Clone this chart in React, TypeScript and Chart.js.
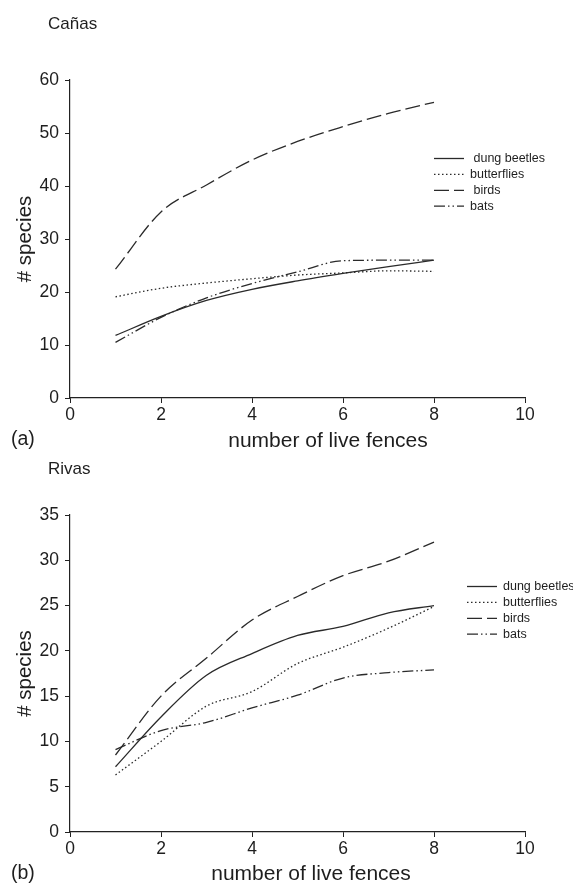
import React, { useEffect, useRef } from "react";
import { Chart, registerables } from "chart.js";

Chart.register(...registerables);

const fences = [1, 2, 3, 4, 5, 6, 7, 8];
const seriesNames = ["dung beetles", "butterflies", "birds", "bats"];
const legendLabelsA = [" dung beetles", "butterflies", " birds", "bats"];
const legendLabelsB = ["dung beetles", "butterflies", "birds", "bats"];
const xAxisTitle = "number of live fences";
const yAxisTitle = "# species";

// Cañas
const canasDung = [11.8, 15.4, 18.4, 20.5, 22.1, 23.5, 24.8, 26.0];
const canasButterflies = [19.1, 20.7, 21.7, 22.5, 23.2, 23.6, 24.0, 23.9];
const canasBirds = [24.3, 35.1, 40.2, 44.9, 48.4, 51.2, 53.7, 55.8];
const canasBats = [10.5, 15.2, 18.9, 21.6, 23.8, 25.9, 26.0, 26.0];

// Rivas
const rivasDung = [7.2, 12.7, 17.3, 19.7, 21.7, 22.7, 24.2, 25.0];
const rivasButterflies = [6.3, 10.0, 13.9, 15.5, 18.6, 20.4, 22.5, 24.9];
const rivasBirds = [8.5, 15.0, 19.2, 23.4, 26.0, 28.3, 29.9, 32.0];
const rivasBats = [9.1, 11.2, 12.1, 13.7, 15.1, 17.0, 17.6, 17.9];

const FONT = "'Liberation Sans', Arial, Helvetica, sans-serif";
const LINE = "#2a2a2a";
const TEXT = "#1e1e1e";
const dashes = [[], [1.5, 2.5], [15, 5], [11, 3, 1.5, 3, 1.5, 3]];

type PanelProps = {
  title: string;
  tag: string;
  series: number[][];
  legendLabels: string[];
  yMax: number;
  yStep: number;
  height: number;
  top: number;
  padTop: number;
  legendX: number;
  legendTextX: number;
  legendY: number;
  legendLen: number;
  titleY: number;
  tagY: number;
  xTitleX: number;
  xTitleY: number;
};

function Panel(p: PanelProps) {
  const ref = useRef<HTMLCanvasElement | null>(null);
  useEffect(() => {
    if (!ref.current) return;
    const extras = {
      id: "extras",
      afterDraw(chart: any) {
        const ctx = chart.ctx;
        ctx.save();
        ctx.fillStyle = TEXT;
        ctx.textBaseline = "middle";
        ctx.textAlign = "left";
        ctx.font = `17px ${FONT}`;
        ctx.fillText(p.title, 48, p.titleY);
        ctx.font = `19.5px ${FONT}`;
        ctx.fillText(p.tag, 11, p.tagY);
        ctx.font = `21px ${FONT}`;
        ctx.textAlign = "center";
        ctx.fillText(xAxisTitle, p.xTitleX, p.xTitleY);
        ctx.textAlign = "left";
        // legend
        ctx.font = `12.5px ${FONT}`;
        chart.data.datasets.forEach((ds: any, i: number) => {
          const y = p.legendY + i * 15.9;
          ctx.beginPath();
          ctx.setLineDash(ds.borderDash || []);
          ctx.strokeStyle = LINE;
          ctx.lineWidth = 1.3;
          ctx.moveTo(p.legendX, y);
          ctx.lineTo(p.legendX + p.legendLen, y);
          ctx.stroke();
          ctx.setLineDash([]);
          ctx.fillText(p.legendLabels[i], p.legendTextX, y);
        });
        ctx.restore();
      },
    };
    const chart = new Chart(ref.current, {
      type: "line",
      data: {
        datasets: seriesNames.map((name, i) => ({
          label: name,
          data: fences.map((x, j) => ({ x, y: p.series[i][j] })),
          borderColor: LINE,
          borderWidth: 1.3,
          borderDash: dashes[i],
          pointRadius: 0,
          fill: false,
          tension: 0.4,
          cubicInterpolationMode: "monotone" as const,
        })),
      },
      options: {
        responsive: false,
        animation: false,
        layout: { padding: { top: p.padTop, right: 48, left: 0, bottom: 0 } },
        plugins: { legend: { display: false }, tooltip: { enabled: false } },
        scales: {
          x: {
            type: "linear",
            min: 0,
            max: 10,
            ticks: { stepSize: 2, color: TEXT, font: { family: FONT, size: 17.5 }, padding: 2, maxRotation: 0 },
            grid: { drawOnChartArea: false, tickLength: 5, color: "#222" },
            border: { color: "#222", width: 1.2 },
            title: { display: false, text: xAxisTitle },
            afterFit: (s: any) => {
              s.height = 54;
            },
          },
          y: {
            min: 0,
            max: p.yMax,
            ticks: { stepSize: p.yStep, color: TEXT, font: { family: FONT, size: 17.5 }, padding: 6 },
            grid: { drawOnChartArea: false, tickLength: 5, color: "#222" },
            border: { color: "#222", width: 1.2 },
            title: {
              display: true,
              text: yAxisTitle,
              color: TEXT,
              font: { family: FONT, size: 20.5, lineHeight: 1 },
              padding: { top: 15.5, bottom: 0 },
            },
            afterFit: (s: any) => {
              s.width = 70;
            },
          },
        },
      },
      plugins: [extras],
    });
    return () => chart.destroy();
  }, []);
  return (
    <canvas
      ref={ref}
      width={573}
      height={p.height}
      style={{ position: "absolute", left: 0, top: p.top, width: 573, height: p.height }}
    />
  );
}

export default function App() {
  return (
    <div style={{ position: "absolute", left: 0, top: 0, width: 573, height: 886, background: "#fff", overflow: "hidden" }}>
      <Panel
        title="Cañas"
        tag="(a)"
        series={[canasDung, canasButterflies, canasBirds, canasBats]}
        legendLabels={legendLabelsA}
        yMax={60}
        yStep={10}
        height={452}
        top={0}
        padTop={80}
        legendX={434}
        legendTextX={470}
        legendY={158.5}
        legendLen={30}
        titleY={24}
        tagY={440}
        xTitleX={328}
        xTitleY={441}
      />
      <Panel
        title="Rivas"
        tag="(b)"
        series={[rivasDung, rivasButterflies, rivasBirds, rivasBats]}
        legendLabels={legendLabelsB}
        yMax={35}
        yStep={5}
        height={443}
        top={443}
        padTop={72}
        legendX={467}
        legendTextX={503}
        legendY={143.5}
        legendLen={30}
        titleY={26}
        tagY={431}
        xTitleX={311}
        xTitleY={431}
      />
    </div>
  );
}
